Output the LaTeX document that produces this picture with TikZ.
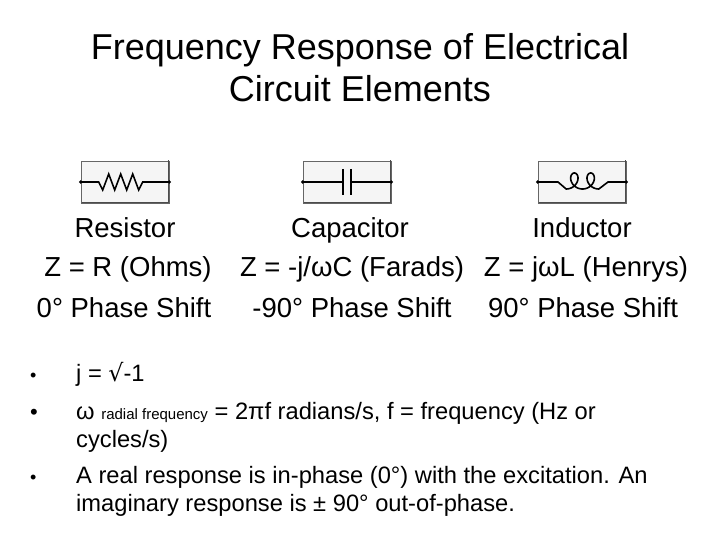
\documentclass[tikz,border=0pt]{standalone}
\usepackage{fontspec}
\setmainfont{Liberation Sans}
\newfontfamily\sym{DejaVu Sans}
\begin{document}
\begin{tikzpicture}[x=1pt,y=-1pt,
  txt/.style={inner sep=0pt,anchor=base},
  big/.style={txt,font=\fontsize{27.5}{32}\selectfont},
  body/.style={txt,anchor=base west,font=\fontsize{23.7}{28}\selectfont},
  icon/.style={draw=black!60,fill=black!4,line width=0.6pt,minimum width=88pt,minimum height=42pt,inner sep=0pt},
  wire/.style={line width=1.6pt}]
\useasboundingbox (0,0) rectangle (720,540);
\node[txt,align=center,font=\fontsize{36}{42}\selectfont] (title) at (360,102) {Frequency Response of Electrical\\Circuit Elements};
% icons
\foreach \n/\x in {r/125,c/347,l/582}{
  \node[icon] (\n) at (\x,182) {};
  \draw[black!70,line width=1.2pt] (\n.south west)++(1,-1) -| ([xshift=-1pt,yshift=1pt]\n.north east);
}
\draw[wire] (r.west) -- ++(18,0) -- ++(4,8) -- ++(6,-16) -- ++(6,16) -- ++(6,-16) -- ++(6,16) -- ++(6,-16) -- ++(6,16) -- ++(4,-8) -- (r.east);
\draw[wire] (c.west) -- ++(40,0) (c.east) -- ++(-40,0);
\draw[wire] ([xshift=-4pt]c.center) ++(0,-13) -- ++(0,26) ([xshift=4pt]c.center) ++(0,-13) -- ++(0,26);
\draw[wire] (l.west) -- (558,182) -- plot[domain=pi:5*pi,samples=160,smooth] ({558+2.6*(\x-2.8*sin(\x r))},{181-8*cos(\x r)}) -- (608,182) -- (l.east);
\foreach \n in {r,c,l}{\fill (\n.west) circle (1.8pt); \fill (\n.east) circle (1.8pt);}
% columns
\node[big] (r1) at (125,237) {Resistor};
\node[big] (r2) at (128,276) {Z = R (Ohms)};
\node[big] (r3) at (124,317) {0° Phase Shift};
\node[big] (c1) at (350,237) {Capacitor};
\node[big] (c2) at (352,276) {Z = -j/ωC (Farads)};
\node[big] (c3) at (352,317) {-90° Phase Shift};
\node[big] (l1) at (582,237) {Inductor};
\node[big] (l2) at (586,276) {Z = jωL (Henrys)};
\node[big] (l3) at (583,317) {90° Phase Shift};
% bullets
\node[body,font=\fontsize{18}{20}\selectfont] (b1) at (30,381) {•};
\node[body] (t1) at (76,381) {j = {\sym√}-1};
\node[body,font=\fontsize{22}{20}\selectfont] (b2) at (30,419) {•};
\node[body] (t2) at (76,419) {ω {\fontsize{15}{18}\selectfont radial frequency} = 2πf radians/s, f = frequency (Hz or};
\node[body] (t2b) at (76,447) {cycles/s)};
\node[body,font=\fontsize{18}{20}\selectfont] (b3) at (30,483) {•};
\node[body] (t3) at (76,483) {A real response is in-phase (0°) with the excitation. An};
\node[body] (t3b) at (76,511) {imaginary response is ± 90° out-of-phase.};
\end{tikzpicture}
\end{document}
